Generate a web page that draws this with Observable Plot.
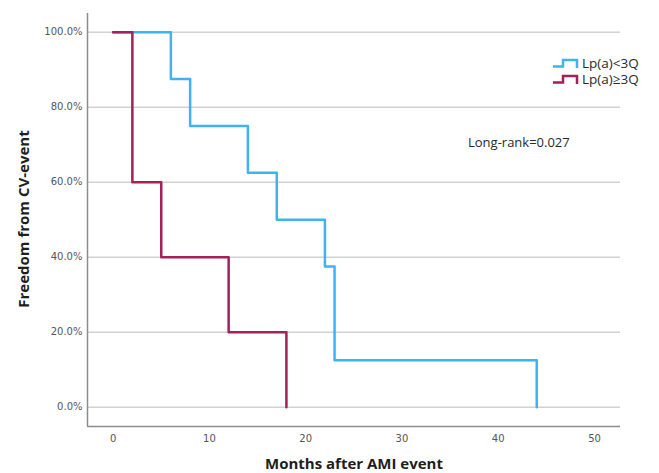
<!DOCTYPE html>
<html>
<head>
<meta charset="utf-8">
<script src="https://cdn.jsdelivr.net/npm/d3@7"></script>
<script src="https://cdn.jsdelivr.net/npm/@observablehq/plot@0.6"></script>
<style>
  html, body { margin: 0; padding: 0; background: #fff; }
  #wrap { position: relative; width: 659px; height: 473px; overflow: hidden; }
  #wrap svg.plot { position: absolute; left: 0; top: 0; }
  .ov { position: absolute; white-space: nowrap; font-family: "Open Sans", sans-serif; color: #2a2a2a; }
  .title { font-weight: bold; font-size: 15px; color: #1e1e1e; line-height: 18px; }
  .leg { font-size: 13.5px; line-height: 14px; height: 14px; display: flex; align-items: center; }
  .leg span { line-height: 14px; display: inline-block; height: 14px; }
  .leg svg { margin-right: 2px; }
</style>
</head>
<body>
<div id="wrap"></div>
<script>
// ---- data ----
const groups = ["Lp(a)<3Q", "Lp(a)≥3Q"];
const groupColors = ["#3fb3f0", "#a3205a"];
// Lp(a)<3Q: event times (months) and survival after each step
const lowTimes = [0, 6, 8, 14, 17, 22, 23, 44];
const lowSurv  = [1.0, 0.875, 0.75, 0.625, 0.5, 0.375, 0.125, 0.0];
// Lp(a)>=3Q
const highTimes = [0, 2, 5, 12, 18];
const highSurv  = [1.0, 0.6, 0.4, 0.2, 0.0];
const xTicks = [0, 10, 20, 30, 40, 50];
const yTicks = [0, 0.2, 0.4, 0.6, 0.8, 1.0];
const xDomain = [-2.66, 52.7];
const yDomain = [-0.0515, 1.05];
const pValueText = "Long-rank=0.027";
const xTitle = "Months after AMI event";
const yTitle = "Freedom from CV-event";

const lowData = lowTimes.map((t, i) => ({t, s: lowSurv[i], g: groups[0]}));
const highData = highTimes.map((t, i) => ({t, s: highSurv[i], g: groups[1]}));

const chart = Plot.plot({
  width: 659,
  height: 473,
  marginLeft: 87,
  marginRight: 39,
  marginTop: 13,
  marginBottom: 47,
  style: {fontFamily: "DejaVu Sans, sans-serif", fontSize: "10px", color: "#555", background: "#fff"},
  x: {domain: xDomain, ticks: xTicks, tickSize: 0, tickPadding: 8, label: null},
  y: {domain: yDomain, ticks: yTicks, tickSize: 0, tickPadding: 5, label: null,
      tickFormat: d => (d * 100).toFixed(1) + "%"},
  marks: [
    Plot.ruleY(yTicks, {stroke: "#d2d2d2", strokeWidth: 1.5}),
    Plot.ruleX([xDomain[0]], {stroke: "#8c8c8c", strokeWidth: 1.5}),
    Plot.ruleY([yDomain[0]], {stroke: "#8c8c8c", strokeWidth: 1.5}),
    Plot.line(lowData, {x: "t", y: "s", curve: "step-after", stroke: groupColors[0], strokeWidth: 2.5}),
    Plot.line(highData, {x: "t", y: "s", curve: "step-after", stroke: groupColors[1], strokeWidth: 2.5})
  ]
});
chart.classList.add("plot");
const wrap = document.getElementById("wrap");
wrap.appendChild(chart);

function addDiv(cls, text, styles) {
  const d = document.createElement("div");
  d.className = "ov " + cls;
  d.textContent = text;
  Object.assign(d.style, styles);
  wrap.appendChild(d);
  return d;
}
// axis titles
addDiv("title", xTitle, {left: "354px", top: "463px", transform: "translate(-50%,-50%)"});
addDiv("title", yTitle, {left: "23px", top: "219px", transform: "translate(-50%,-50%) rotate(-90deg)"});
// p-value annotation
addDiv("", pValueText, {left: "468px", top: "142px", transform: "translateY(-50%)", fontSize: "13px", lineHeight: "16px"});
// legend
groups.forEach((g, i) => {
  const d = document.createElement("div");
  d.className = "ov leg";
  d.style.left = "552px";
  d.style.top = (63 + i * 16.3) + "px";
  d.style.transform = "translateY(-50%)";
  d.innerHTML = `<svg width="28" height="12"><path d="M1,9.5H11V3H25V11" fill="none" stroke="${groupColors[i]}" stroke-width="2.5"/></svg>`;
  const s = document.createElement("span");
  s.textContent = g;
  d.appendChild(s);
  wrap.appendChild(d);
});
</script>
</body>
</html>
